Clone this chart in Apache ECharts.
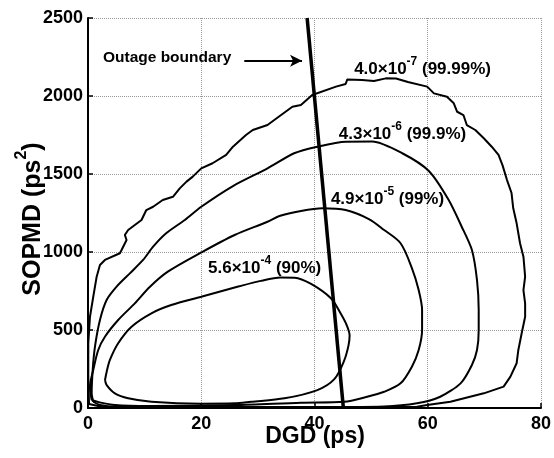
<!DOCTYPE html>
<html><head><meta charset="utf-8">
<script src="https://cdn.jsdelivr.net/npm/echarts@6/dist/echarts.min.js"></script>
<style>html,body{margin:0;padding:0;background:#fff}#c{width:554px;height:458px}</style>
</head><body><div id="c"></div>
<script>
// ---- data ----
const xTickValues = [0, 20, 40, 60, 80];
const yTickValues = [0, 500, 1000, 1500, 2000, 2500];

// 90% contour (5.6e-4)
const c90 = [[3.0,179],[3.3,233],[3.87,308],[5.33,415],[7.69,521],[11.2,607],[14.7,660],[20.0,713],[26.7,780],[30.5,815],[34.0,836],[36.5,835],[39.4,795],[42.9,703],[44.6,607],[45.7,530],[46.2,465],[46.0,400],[45.2,300],[43.5,185],[40.5,115],[34.7,62],[28.8,40],[25.9,30],[20.0,28],[11.2,40],[7.1,62],[4.75,94],[3.3,147],[3.0,179]];

// 99% contour (4.9e-5)
const c99 = [[0.65,51],[0.35,137],[0.93,244],[1.81,372],[2.99,457],[5.33,564],[8.27,671],[10.9,776],[14.1,874],[20.0,997],[25.9,1109],[31.7,1194],[33.8,1231],[37.6,1263],[41.4,1280],[45.5,1269],[49.6,1211],[52.3,1141],[55.2,1056],[57.2,897],[58.4,756],[59.0,628],[59.0,500],[58.4,372],[57.2,265],[55.2,158],[52.3,104],[49.3,72],[45.2,40],[37.6,34],[25.9,19],[10.9,13],[4.75,19],[1.8,38],[0.65,51]];

// 99.9% contour (4.3e-6)
const c999 = [[0.93,40],[0.65,94],[0.83,244],[1.23,393],[2.11,564],[3.29,692],[5.05,778],[7.39,863],[9.73,949],[11.5,1034],[13.8,1120],[17.1,1205],[20.0,1290],[25.6,1423],[31.7,1536],[36.4,1633],[40.5,1675],[45.5,1707],[50.2,1708],[55.5,1633],[60.2,1519],[63.7,1333],[66.0,1162],[67.8,1013],[68.7,820],[69.0,628],[69.0,500],[68.7,372],[67.8,276],[65.8,158],[62.2,72],[58.1,30],[52.3,10],[37.3,6],[19.7,6],[5.05,8],[2.11,19],[0.93,40]];

// 99.99% contour (4.0e-7)
const c9999 = [[0.18,26],[0.05,201],[0.05,415],[0.35,585],[0.93,713],[1.53,842],[2.11,917],[2.99,949],[5.63,992],[5.93,1013],[6.81,1077],[6.51,1109],[7.09,1141],[8.27,1173],[9.45,1205],[10.3,1269],[11.5,1290],[13.2,1333],[15.0,1354],[16.2,1408],[17.4,1451],[18.5,1483],[20.0,1536],[22.0,1569],[24.4,1622],[25.6,1675],[27.9,1750],[29.1,1782],[31.7,1814],[34.1,1878],[36.1,1931],[37.6,1942],[39.6,2006],[43.8,2060],[45.5,2077],[45.8,2106],[48.4,2102],[50.5,2096],[52.6,2113],[54.4,2112],[56.5,2090],[59.9,2060],[61.1,2017],[63.4,1995],[64.6,1953],[65.2,1899],[66.3,1878],[66.9,1814],[68.4,1782],[69.9,1729],[71.3,1675],[72.5,1622],[73.2,1557],[74.0,1461],[74.8,1378],[75.1,1280],[75.7,1184],[76.3,1056],[76.9,970],[77.2,842],[76.9,756],[77.2,671],[77.2,585],[76.6,481],[76.0,372],[75.7,287],[74.6,201],[73.4,137],[69.9,94],[64.0,40],[59.9,19],[58.1,8],[37.3,3],[10.9,3],[2.4,8],[0.18,26]];

// outage boundary and arrow
const boundary = [[38.7,2500],[45.1,0]];
const arrowLine = [[27.6,2226],[37.8,2226]];

// annotation texts and anchor points (left edge, vertical middle)
const annotations = [
  {at:[47.0,2186], mant:'4.0×10', exp:'-7', pct:' (99.99%)'},
  {at:[44.3,1769], mant:'4.3×10', exp:'-6', pct:' (99.9%)'},
  {at:[42.9,1354], mant:'4.9×10', exp:'-5', pct:' (99%)'},
  {at:[21.2,910],  mant:'5.6×10', exp:'-4', pct:' (90%)'}
];
const boundaryLabel = {at:[2.64,2244], text:'Outage boundary'};

// ---- chart ----
const F = '"Liberation Sans", Arial, Helvetica, sans-serif';
const chart = echarts.init(document.getElementById('c'), null, {renderer:'canvas'});
const contourStyle = {color:'#000', width:2};
function contour(name, data, smooth){
  return {name, type:'line', data, showSymbol:false, symbol:'none', smooth:smooth, lineStyle:contourStyle, clip:true, silent:true, z:3};
}
const option = {
  animation:false,
  grid:{left:88, top:18, right:11, bottom:50},
  xAxis:{type:'value', min:0, max:80, interval:20,
    axisLine:{lineStyle:{color:'#000', width:2}},
    axisTick:{inside:true, length:5, lineStyle:{color:'#000', width:1.5}},
    axisLabel:{color:'#000', fontSize:18, fontWeight:'bold', fontFamily:F, margin:7,
      formatter:v=> xTickValues.includes(v) ? String(v) : ''},
    splitLine:{show:true, lineStyle:{type:'dotted', color:'#9a9a9a', width:1}}},
  yAxis:{type:'value', min:0, max:2500, interval:500,
    axisLine:{show:true, lineStyle:{color:'#000', width:2}},
    axisTick:{show:true, inside:true, length:5, lineStyle:{color:'#000', width:1.5}},
    axisLabel:{color:'#000', fontSize:18, fontWeight:'bold', fontFamily:F, margin:5,
      formatter:v=> yTickValues.includes(v) ? String(v) : ''},
    splitLine:{show:true, lineStyle:{type:'dotted', color:'#9a9a9a', width:1}}},
  series:[
    contour('90%', c90, 0.3),
    contour('99%', c99, 0.3),
    contour('99.9%', c999, 0.25),
    contour('99.99%', c9999, false),
    {name:'boundary', type:'line', data:boundary, showSymbol:false, symbol:'none',
     lineStyle:{color:'#000', width:3.5}, silent:true, z:4,
     markLine:{silent:true, animation:false, symbol:['none','arrow'], symbolSize:[9,12],
       lineStyle:{color:'#000', width:2, type:'solid'}, label:{show:false},
       data:[[{coord:arrowLine[0]},{coord:arrowLine[1]}]]}}
  ]
};
chart.setOption(option);

const rich = {
  n:{fontSize:17, fontWeight:'bold', fontFamily:F, color:'#000', lineHeight:22, verticalAlign:'bottom'},
  s:{fontSize:12, fontWeight:'bold', fontFamily:F, color:'#000', lineHeight:22, verticalAlign:'top'}
};
const graphics = [];
annotations.forEach(a=>{
  const p = chart.convertToPixel({gridIndex:0}, a.at);
  graphics.push({type:'text', x:p[0], y:p[1], z:10,
    style:{text:'{n|'+a.mant+'}{s|'+a.exp+'}{n|'+a.pct+'}', rich, verticalAlign:'middle', align:'left'}});
});
const bp = chart.convertToPixel({gridIndex:0}, boundaryLabel.at);
graphics.push({type:'text', x:bp[0], y:bp[1], z:10,
  style:{text:boundaryLabel.text, font:'bold 15.5px '+F, fill:'#000', verticalAlign:'middle', align:'left'}});
// axis titles
graphics.push({type:'text', x:315, y:437, z:10,
  style:{text:'DGD (ps)', font:'bold 23px '+F, fill:'#000', align:'center', verticalAlign:'middle'}});
graphics.push({type:'text', x:30, y:219, rotation:Math.PI/2, z:10,
  style:{text:'{a|SOPMD (ps}{b|2}{a|)}', align:'center', verticalAlign:'middle',
    rich:{a:{fontSize:25, fontWeight:'bold', fontFamily:F, color:'#000', lineHeight:32, verticalAlign:'bottom'},
          b:{fontSize:16, fontWeight:'bold', fontFamily:F, color:'#000', lineHeight:32, verticalAlign:'top'}}}});
chart.setOption({graphic:graphics});
</script>
</body></html>
